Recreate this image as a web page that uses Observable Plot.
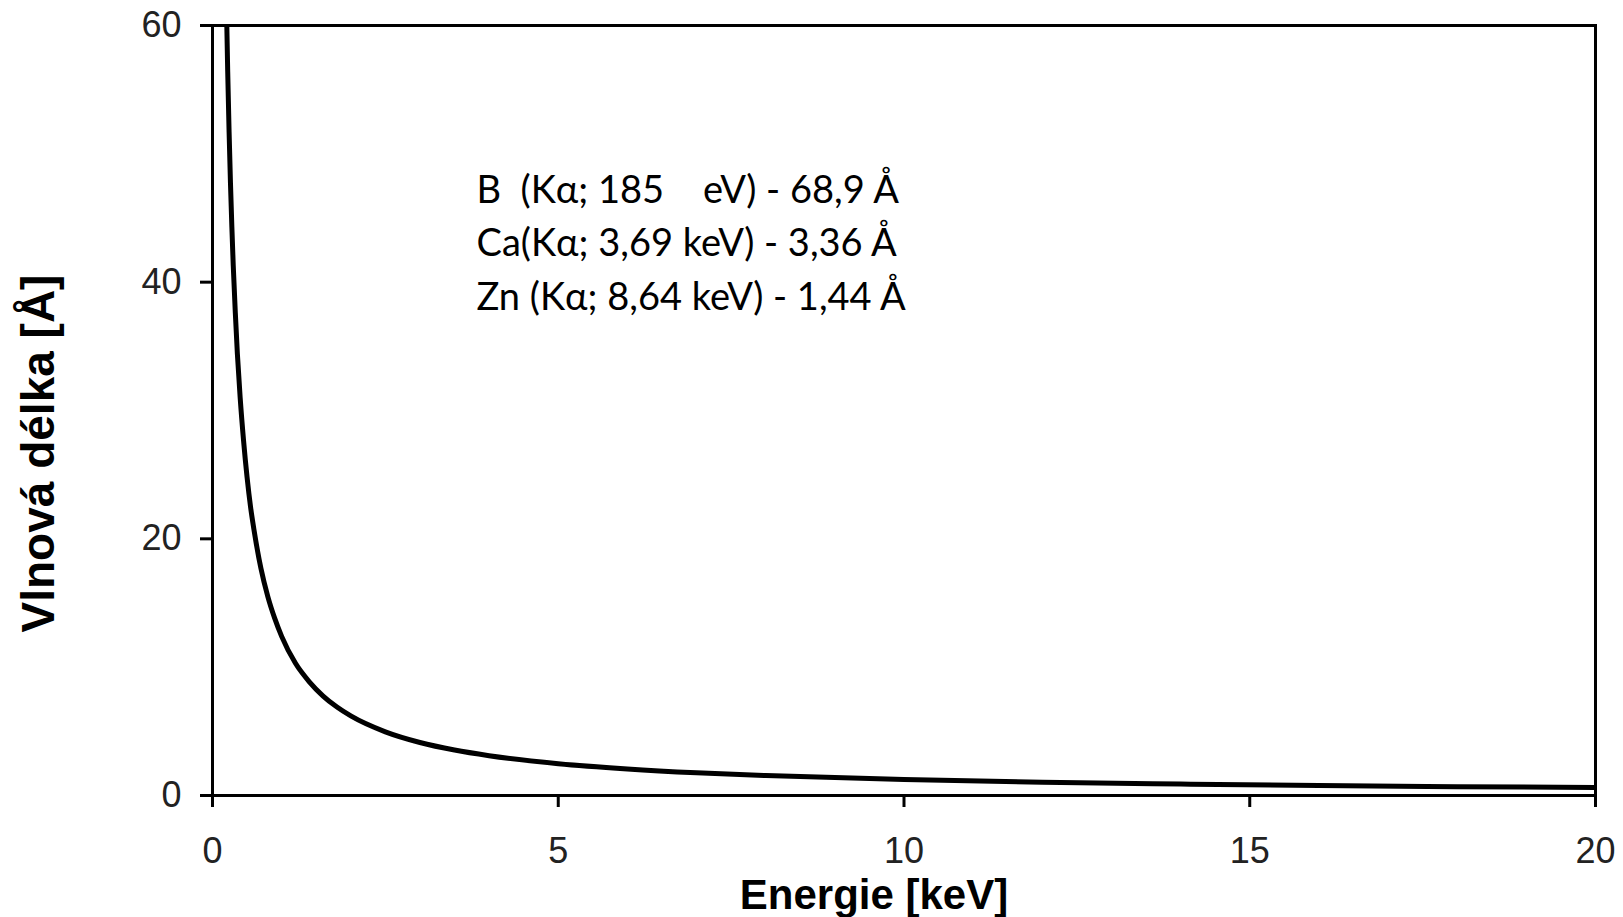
<!DOCTYPE html>
<html><head><meta charset="utf-8">
<script src="https://cdn.jsdelivr.net/npm/d3@7"></script>
<script src="https://cdn.jsdelivr.net/npm/@observablehq/plot@0.6"></script>
<style>body{margin:0;background:#fff}</style>
</head><body><div id="chart"></div>
<script>
const energy = [0.207, 0.22, 0.24, 0.26, 0.28, 0.3, 0.33, 0.36, 0.4, 0.45, 0.5, 0.55, 0.6, 0.7, 0.8, 0.9, 1.0, 1.2, 1.4, 1.6, 1.8, 2.0, 2.5, 3.0, 3.5, 4.0, 5.0, 6.0, 7.0, 8.0, 10.0, 12.0, 14.0, 16.0, 18.0, 20.0];
const wavelength = [60.0, 56.4, 51.7, 47.7, 44.3, 41.3, 37.6, 34.4, 31.0, 27.6, 24.8, 22.5, 20.7, 17.7, 15.5, 13.8, 12.4, 10.3, 8.86, 7.75, 6.89, 6.2, 4.96, 4.13, 3.54, 3.1, 2.48, 2.07, 1.77, 1.55, 1.24, 1.03, 0.89, 0.77, 0.69, 0.62];
const xTicks = [0, 5, 10, 15, 20];
const yTicks = [0, 20, 40, 60];
const annotationLines = [
  "B\u00a0 (K\u03b1; 185\u00a0\u00a0\u00a0 eV) - 68,9 \u00c5",
  "Ca(K\u03b1; 3,69 keV) - 3,36 \u00c5",
  "Zn (K\u03b1; 8,64 keV) - 1,44 \u00c5"
];
const xTitle = "Energie [keV]";
const yTitle = "Vlnová délka [Å]";

const data = energy.map((e, i) => ({e, l: wavelength[i]}));

const plot = Plot.plot({
  width: 1623, height: 917,
  marginLeft: 212, marginTop: 25, marginRight: 28, marginBottom: 122,
  x: {domain: [0, 20]},
  y: {domain: [0, 60]},
  style: {fontFamily: "'Liberation Sans', Arial, sans-serif", fontSize: "36px", color: "#222", background: "#fff"},
  marks: [
    Plot.line(data, {x: "e", y: "l", stroke: "black", strokeWidth: 5, curve: "monotone-x", clip: true}),
    Plot.frame({stroke: "black", strokeWidth: 3}),
    Plot.axisX({ticks: xTicks, tickSize: 12, tickPadding: 30, stroke: "black", strokeWidth: 3, label: null, fontSize: 36, fill: "#222"}),
    Plot.axisY({ticks: yTicks, tickSize: 12, tickPadding: 19, stroke: "black", strokeWidth: 3, label: null, fontSize: 36, fill: "#222"}),
    Plot.text([xTitle], {text: d => d, frameAnchor: "bottom", dx: -30, dy: 100, lineAnchor: "middle", fontSize: 42, fontWeight: "bold", fill: "black"}),
    Plot.text([yTitle], {text: d => d, frameAnchor: "left", rotate: -90, dx: -173, dy: 43, textAnchor: "middle", lineAnchor: "middle", fontSize: 46, fontWeight: "bold", fill: "black"}),
    Plot.text([annotationLines.join("\n")], {text: d => d, frameAnchor: "top-left", dx: 264, dy: 140, lineAnchor: "top", textAnchor: "start", lineHeight: 1.4, fontSize: 38, fontFamily: "Lato", fill: "black"})
  ]
});
document.getElementById("chart").appendChild(plot);
</script>
</body></html>
